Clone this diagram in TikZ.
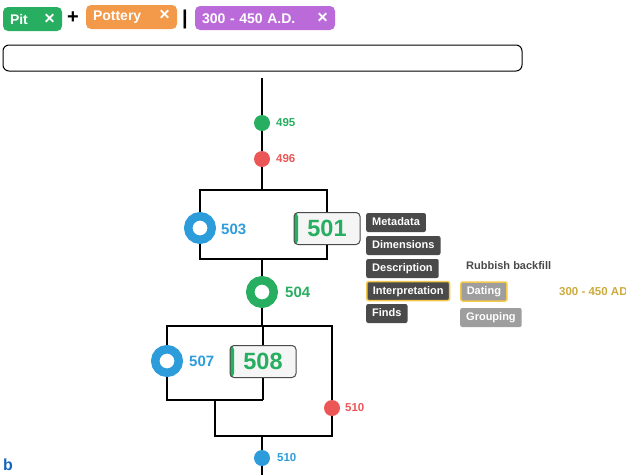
\documentclass[tikz,border=0pt]{standalone}
\usepackage{fontspec}
\setmainfont{Liberation Sans}
\usepackage{tikz}

\definecolor{pitgreen}{RGB}{39,174,96}
\definecolor{potorange}{RGB}{242,153,74}
\definecolor{datepurple}{RGB}{187,107,217}
\definecolor{ctxred}{RGB}{235,87,87}
\definecolor{ctxblue}{RGB}{45,156,219}
\definecolor{btndark}{RGB}{74,74,74}
\definecolor{btnlight}{RGB}{158,158,158}
\definecolor{hiyellow}{RGB}{242,201,76}
\definecolor{dategold}{RGB}{204,170,60}
\definecolor{boxfill}{RGB}{245,245,245}
\definecolor{figblue}{RGB}{21,101,192}

\newcommand{\chipx}{{\fontsize{18}{16}\selectfont ×}}

\tikzset{
	chip/.style={rounded corners=5pt, text=white, font=\bfseries\fontsize{14}{16}\selectfont,
		inner xsep=7pt, inner ysep=0pt, minimum height=24pt, align=left},
	dot/.style={circle, inner sep=0pt, minimum size=16pt},
	ring/.style={circle, inner sep=0pt, minimum size=23.5pt, line width=8.5pt, fill=white},
	num/.style={anchor=west, inner sep=0pt, font=\bfseries\fontsize{11.5}{13}\selectfont},
	bignum/.style={anchor=west, inner sep=0pt, font=\bfseries\fontsize{15}{18}\selectfont},
	ctxbox/.style={draw=btndark, fill=boxfill, rounded corners=4pt, line width=1pt,
		minimum width=66pt, minimum height=32pt, inner sep=0pt, text=pitgreen,
		font=\bfseries\fontsize{23.5}{26}\selectfont,
		path picture={\fill[pitgreen] (path picture bounding box.south west) rectangle ([xshift=4pt]path picture bounding box.north west);}},
	btn/.style={anchor=west, fill=btndark, text=white, rounded corners=2pt,
		font=\bfseries\fontsize{11}{13}\selectfont, inner xsep=6pt, inner ysep=0pt,
		minimum height=19pt, text height=8pt, text depth=2pt},
	hl/.style={draw=hiyellow, line width=1.5pt},
	link/.style={line width=1.3pt},
}

\begin{document}
\begin{tikzpicture}[x=1pt,y=-1pt]
				\useasboundingbox (0,0) rectangle (626,475);
				
				% filter chips
				\node[chip, fill=pitgreen, text width=45pt] (pit) at (32.5,19) {Pit\hfill\chipx};
				\node[inner sep=0pt, font=\bfseries\fontsize{20}{20}\selectfont] (plus) at (73,18) {+};
				\node[chip, fill=potorange, text width=77pt] (pottery) at (131.5,17) {Pottery\hfill\chipx};
				\node[inner sep=0pt, font=\bfseries\fontsize{20}{20}\selectfont] (bar) at (185,19.5) {|};
				\node[chip, fill=datepurple, text width=126pt] (period) at (265,18) {300 - 450 A.D.\hfill\chipx};
				
				\node[draw, rounded corners=6pt, line width=1pt, minimum width=519pt, minimum height=26pt, inner sep=0pt] (search) at (262.5,58) {};
				
				% contexts
				\coordinate (top) at (262,78);
				\node[dot, fill=pitgreen] (c495) at (262,123) {};
				\node[dot, fill=ctxred] (c496) at (262,159) {};
				\coordinate (j1) at (262,190);
				\node[ring, draw=ctxblue] (c503) at (200,228) {};
				\node[ctxbox] (c501) at (327,228.5) {501};
				\coordinate (j2) at (262,259);
				\node[ring, draw=pitgreen] (c504) at (262,292) {};
				\coordinate (j3) at (262,326);
				\node[ring, draw=ctxblue] (c507) at (167,361) {};
				\node[ctxbox] (c508) at (263,361.5) {508};
				\coordinate (j4) at (263,400);
				\coordinate (j5) at (215,400);
				\coordinate (j6) at (215,436);
				\node[dot, fill=ctxred] (c510r) at (332,408) {};
				\coordinate (j7) at (262,436);
				\node[dot, fill=ctxblue] (c510b) at (262,458) {};
				\coordinate (bottom) at (262,475);
				
				\draw[link] (top) -- (c495) -- (c496) -- (j1);
				\draw[link] (c503) |- (j1) -| (c501);
				\draw[link] (c503) |- (j2) -| (c501);
				\draw[link] (j2) -- (c504) -- (j3);
				\draw[link] (c507) |- (j3) -| (c510r);
				\draw[link] (j3) -| (c508) -- (j4);
				\draw[link] (c507) |- (j4);
				\draw[link] (j5) -- (j6) -| (c510r);
				\draw[link] (j7) -- (c510b) -- (bottom);
				
				\node[num, text=pitgreen] (l495) at (276,123) {495};
				\node[num, text=ctxred] (l496) at (276,159) {496};
				\node[bignum, text=ctxblue] (l503) at (221,229) {503};
				\node[bignum, text=pitgreen] (l504) at (285,292) {504};
				\node[bignum, text=ctxblue] (l507) at (189,361) {507};
				\node[num, text=ctxred] (l510r) at (345,408) {510};
				\node[num, text=ctxblue] (l510b) at (277,458) {510};
				
				% record menu
				\node[btn] (metadata) at (366,222.5) {Metadata};
				\node[btn] (dimensions) at (366,245.5) {Dimensions};
				\node[btn] (description) at (366,268.5) {Description};
				\node[btn, hl] (interp) at (366,291) {Interpretation};
				\node[btn] (finds) at (366,313.5) {Finds};
				
				\node[anchor=west, inner sep=0pt, text=btndark, font=\bfseries\fontsize{11}{13}\selectfont] (backfill) at (466,266) {Rubbish backfill};
				\node[btn, fill=btnlight, hl] (dating) at (460,291.5) {Dating};
				\node[btn, fill=btnlight] (grouping) at (460,317.5) {Grouping};
				\node[anchor=west, inner sep=0pt, text=dategold, font=\bfseries\fontsize{11.5}{13}\selectfont] (datevalue) at (559,292) {300 - 450 AD};
				
				\node[inner sep=0pt, text=figblue, font=\bfseries\fontsize{16}{16}\selectfont] (panel) at (8,465) {b};
				
\end{tikzpicture}
\end{document}
